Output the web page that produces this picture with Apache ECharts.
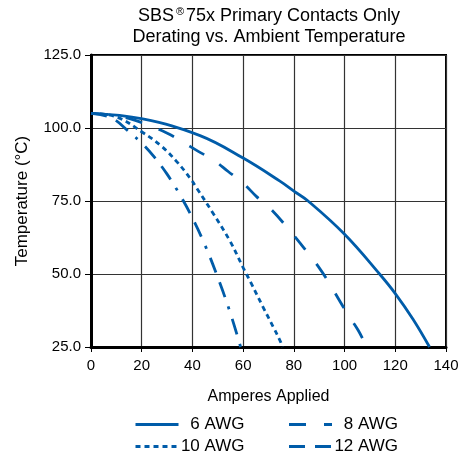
<!DOCTYPE html>
<html>
<head>
<meta charset="utf-8">
<script src="https://cdn.jsdelivr.net/npm/echarts@6/dist/echarts.min.js"></script>
<style>
html,body{margin:0;padding:0;background:#fff;}
#chart{width:462px;height:457px;}
</style>
</head>
<body>
<div id="chart"></div>
<script>
// Data
var seriesNames = ['6 AWG', '8 AWG', '10 AWG', '12 AWG'];
var xTicks = [0, 20, 40, 60, 80, 100, 120, 140];
var yTicks = [25.0, 50.0, 75.0, 100.0, 125.0];

var amps6 = [0, 20.4, 43, 60, 74.5, 80, 85.6, 100, 113.8, 120, 127, 133.5];
var temp6 = [105, 103.1, 97.4, 89.7, 81.8, 78.4, 75, 63.6, 50, 43.3, 34.5, 25];

var amps8 = [0, 10, 19.5, 29.9, 35.8, 42.3, 48.2, 54.1, 60, 65.3, 70.6, 78, 85, 89.6, 93.5, 97.4, 101.4, 105.3, 108.8];
var temp8 = [105, 104.2, 102, 98.3, 95.4, 92, 89.1, 85.1, 81.1, 76.5, 72.5, 65.3, 57.8, 52.6, 47.5, 41.8, 36, 30.8, 25];

var amps10 = [0, 10, 20.7, 27.9, 33.8, 39.1, 41.7, 48, 54.8, 60, 63.3, 67.9, 71.9, 74.5, 75.6];
var temp10 = [105, 103.8, 98.3, 93.7, 88.5, 82.8, 79.4, 71, 61.3, 52.2, 46.6, 38.6, 31.8, 27.3, 25];

var amps12 = [0, 8, 15, 20, 25, 30, 35, 40, 45, 50, 55, 59];
var temp12 = [105, 103.5, 98.7, 94.8, 90, 84.2, 77.2, 69.2, 59.8, 48.8, 36.5, 25];

var lineColor = '#005ca9';
var font = 'Liberation Sans, Arial, Helvetica, sans-serif';

function zip(a, b) { return a.map(function (v, i) { return [v, b[i]]; }); }

var dashes = ['solid', [17, 18], [5, 4], [16, 10, 16, 10, 3, 10]];
var dataSets = [zip(amps6, temp6), zip(amps8, temp8), zip(amps10, temp10), zip(amps12, temp12)];

var chart = echarts.init(document.getElementById('chart'), null, {renderer: 'canvas'});

var legendText = {
  fontFamily: font, fontSize: 17, color: '#000',
  rich: { a: { width: 61, align: 'right', fontFamily: font, fontSize: 17, color: '#000' } }
};

function legendBox(names, top) {
  return {
    data: names, left: 129, top: top, itemWidth: 43, itemHeight: 14, itemGap: 43,
    formatter: '{a|{name}}', textStyle: legendText,
    itemStyle: { opacity: 0, borderWidth: 0 },
    lineStyle: { width: 3 }
  };
}

chart.setOption({
  animation: false,
  backgroundColor: '#fff',
  title: {
    text: 'SBS{sup|®}75x Primary Contacts Only\nDerating vs. Ambient Temperature',
    left: 264, top: 1, textAlign: 'center',
    textStyle: {
      fontFamily: font, fontSize: 18, fontWeight: 'normal', color: '#000', lineHeight: 21,
      rich: { sup: { fontSize: 11, fontFamily: font, color: '#000', verticalAlign: 'top', padding: [0, 2, 6, 2] } }
    }
  },
  grid: {
    left: 91, right: 16, top: 55, bottom: 110,
    show: true, borderColor: '#000', borderWidth: 2, backgroundColor: 'transparent',
    containLabel: false
  },
  legend: [
    legendBox([seriesNames[0], seriesNames[1]], 411),
    legendBox([seriesNames[2], seriesNames[3]], 433)
  ],
  xAxis: {
    type: 'value', min: xTicks[0], max: xTicks[xTicks.length - 1], interval: 20,
    name: 'Amperes Applied', nameLocation: 'middle', nameGap: 42,
    nameTextStyle: { fontFamily: font, fontSize: 16, color: '#000' },
    axisLine: { show: true, onZero: false, lineStyle: { color: '#000', width: 3 } },
    axisTick: { show: true, length: 5, lineStyle: { color: '#000', width: 1 } },
    axisLabel: { fontFamily: font, fontSize: 15, color: '#000', margin: 11 },
    splitLine: { show: true, lineStyle: { color: '#333', width: 1.2 } }
  },
  yAxis: {
    type: 'value', min: yTicks[0], max: yTicks[yTicks.length - 1], interval: 25,
    name: 'Temperature (°C)', nameLocation: 'middle', nameGap: 60, nameRotate: 90,
    nameTextStyle: { fontFamily: font, fontSize: 17, color: '#000' },
    axisLine: { show: true, onZero: false, lineStyle: { color: '#000', width: 3 } },
    axisTick: { show: true, length: 6, lineStyle: { color: '#000', width: 1 } },
    axisLabel: {
      fontFamily: font, fontSize: 15, color: '#000', margin: 10,
      formatter: function (v) { return v.toFixed(1); }
    },
    splitLine: { show: true, lineStyle: { color: '#333', width: 1.2 } }
  },
  series: seriesNames.map(function (n, i) {
    return {
      name: n, type: 'line', data: dataSets[i], smooth: 0.4,
      showSymbol: false, symbol: 'none', clip: true,
      lineStyle: { color: lineColor, width: 2.8, type: dashes[i] },
      itemStyle: { color: lineColor }
    };
  })
});
</script>
</body>
</html>
